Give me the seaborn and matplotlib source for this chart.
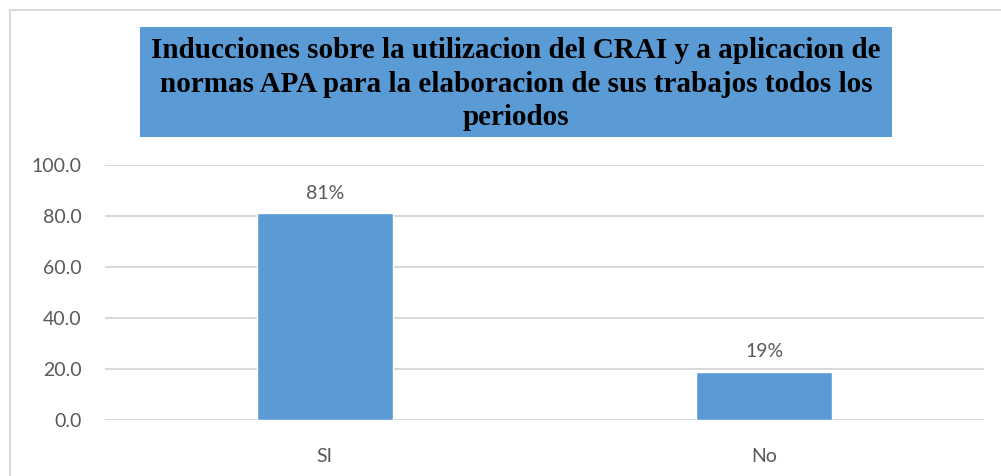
import seaborn as sns
import matplotlib.pyplot as plt
import matplotlib.patches as patches
import pandas as pd

# donnees
categories = ["SI", "No"]
valeurs = [81, 19]
etiquettes = ["81%", "19%"]
titre = ("Inducciones sobre la utilizacion del CRAI y a aplicacion de\n"
         "normas APA para la elaboracion de sus trabajos todos los\n"
         "periodos")

bleu = "#5B9BD5"
gris_grille = "#D9D9D9"
gris_texte = "#595959"

sns.set_theme(style="white")
plt.rcParams['font.family'] = ['Lato', 'DejaVu Sans']

W, H = 1001, 476
fig = plt.figure(figsize=(W / 100, H / 100), dpi=100)

# cadre du graphique
fig.patches.append(patches.Rectangle((10 / W, -0.1), 1.2, 1 - 10 / H + 0.1,
                                     transform=fig.transFigure, fill=False,
                                     edgecolor=gris_grille, linewidth=1.5))

ax = fig.add_axes([105 / W, 1 - 420 / H, (984 - 105) / W, (420 - 165) / H])
df = pd.DataFrame({"cat": categories, "val": valeurs})
sns.barplot(data=df, x="cat", y="val", color=bleu, width=0.31, saturation=1, ax=ax)

ax.set_ylim(0, 100)
ax.set_xlim(-0.5, 1.5)
ax.set_yticks(range(0, 101, 20))
ax.set_yticklabels([f"{v:.1f}" for v in range(0, 101, 20)])
ax.yaxis.grid(True, color=gris_grille, linewidth=1.5)
ax.set_axisbelow(True)
for s in ax.spines.values():
    s.set_visible(False)
ax.set_xlabel("")
ax.set_ylabel("")
ax.tick_params(axis='y', length=0, pad=17, labelsize=14, labelcolor=gris_texte)
ax.tick_params(axis='x', length=0, pad=20, labelsize=14, labelcolor=gris_texte)

for i, (v, t) in enumerate(zip(valeurs, etiquettes)):
    ax.annotate(t, (i, v), xytext=(0, 8), textcoords="offset points",
                ha="center", va="bottom", fontsize=14, color=gris_texte)

# boite du titre
fig.patches.append(patches.Rectangle((140 / W, 1 - 137 / H), (892 - 140) / W, 110 / H,
                                     transform=fig.transFigure, facecolor=bleu,
                                     edgecolor="none"))
fig.text(516 / W, 1 - 84 / H, titre, ha="center", va="center",
         fontsize=21, fontweight="bold", family="Liberation Serif",
         linespacing=1.3, color="black")

fig.savefig("out.png", dpi=100)
